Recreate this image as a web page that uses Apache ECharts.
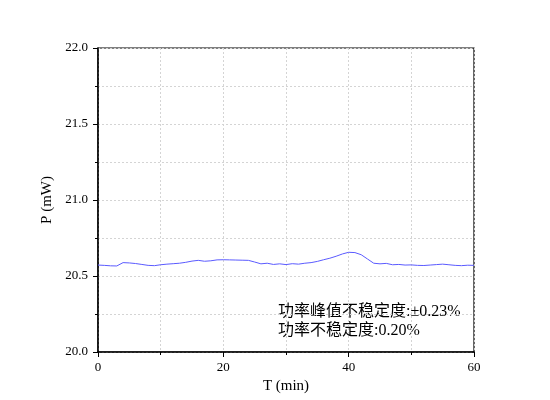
<!DOCTYPE html>
<html lang="zh" style="height: 100%">
<head>
    <meta charset="UTF-8">
    <title>Power Stability</title>
    <script src="https://cdn.jsdelivr.net/npm/echarts@6/dist/echarts.min.js"></script>
</head>
<body style="height: 100%; margin: 0; background: #fff">
<div id="container" style="width: 550px; height: 400px"></div>

<script type="text/javascript">
    // time (min) and power (mW)
    var times = [];
    for (var i = 0; i <= 60; i++) times.push(i);
    var power = [
        20.572, 20.570, 20.567, 20.566, 20.588, 20.586, 20.582, 20.576, 20.570, 20.568,
        20.574, 20.578, 20.581, 20.584, 20.590, 20.598, 20.603, 20.597, 20.600, 20.606,
        20.607, 20.606, 20.605, 20.604, 20.603, 20.592, 20.580, 20.584, 20.576, 20.580,
        20.575, 20.581, 20.578, 20.584, 20.588, 20.596, 20.607, 20.617, 20.630, 20.645,
        20.656, 20.654, 20.640, 20.612, 20.584, 20.580, 20.583, 20.574, 20.576, 20.572,
        20.573, 20.570, 20.569, 20.572, 20.575, 20.578, 20.574, 20.570, 20.568, 20.571,
        20.570
    ];
    var xTicks = [0, 20, 40, 60];
    var yTicks = [20.0, 20.5, 21.0, 21.5, 22.0];
    var notes = ['功率峰值不稳定度:±0.23%', '功率不稳定度:0.20%'];

    var labelFont = '"Liberation Serif", "Noto Sans CJK SC", serif';

    var data = times.map(function (t, k) { return [t, power[k]]; });

    var dom = document.getElementById("container");
    var myChart = echarts.init(dom, null, {renderer: 'canvas'});

    var dotted = {show: true, lineStyle: {color: '#d4d4d4', type: [2, 2], width: 1}};

    var option = {
        animation: false,
        grid: {
            left: 98, right: 76, top: 48, bottom: 48,
            show: true, borderColor: '#000', borderWidth: 1.2
        },
        xAxis: {
            type: 'value',
            min: xTicks[0],
            max: xTicks[xTicks.length - 1],
            interval: 20,
            name: 'T (min)',
            nameLocation: 'middle',
            nameGap: 26,
            nameTextStyle: {color: '#000', fontSize: 15, fontFamily: labelFont},
            axisLine: {lineStyle: {color: '#000', width: 1.5}},
            axisTick: {show: true, length: 5, lineStyle: {color: '#000'}},
            minorTick: {show: true, splitNumber: 2, length: 3, lineStyle: {color: '#000'}},
            splitLine: dotted,
            minorSplitLine: dotted,
            axisLabel: {color: '#000', fontSize: 13, fontFamily: labelFont, margin: 9}
        },
        yAxis: {
            type: 'value',
            min: yTicks[0],
            max: yTicks[yTicks.length - 1],
            interval: 0.5,
            name: 'P (mW)',
            nameLocation: 'middle',
            nameGap: 32,
            nameTextStyle: {color: '#000', fontSize: 15, fontFamily: labelFont},
            axisLine: {lineStyle: {color: '#000', width: 1.5}},
            axisTick: {show: true, length: 5, lineStyle: {color: '#000'}},
            minorTick: {show: true, splitNumber: 2, length: 3, lineStyle: {color: '#000'}},
            splitLine: dotted,
            minorSplitLine: dotted,
            axisLabel: {
                color: '#000', fontSize: 13, fontFamily: labelFont, margin: 10,
                formatter: function (v) { return v.toFixed(1); }
            }
        },
        graphic: [{
            type: 'text',
            left: 278,
            top: 302,
            style: {
                text: notes.join('\n'),
                fill: '#000',
                font: '16px ' + labelFont,
                lineHeight: 19
            }
        }],
        series: [{
            type: 'line',
            data: data,
            showSymbol: false,
            smooth: false,
            lineStyle: {color: '#5a5aff', width: 1}
        }]
    };
    myChart.setOption(option, true);
</script>
</body>
</html>
